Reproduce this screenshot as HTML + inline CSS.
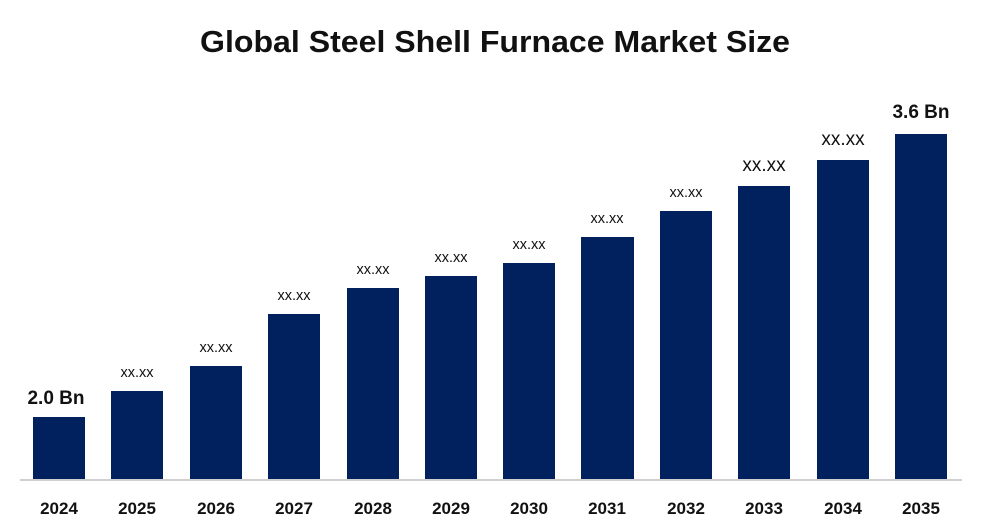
<!DOCTYPE html>
<html><head><meta charset="utf-8"><style>
body{margin:0;background:#fff;width:989px;height:525px;overflow:hidden;font-family:"Liberation Sans",sans-serif}
</style></head><body>
<svg width="989" height="525" xmlns="http://www.w3.org/2000/svg" font-family="Liberation Sans, sans-serif">
<text x="200" y="52" textLength="590" lengthAdjust="spacingAndGlyphs" font-size="31" font-weight="bold" fill="#111">Global Steel Shell Furnace Market Size</text>
<line x1="20" y1="480" x2="962" y2="480" stroke="#d0d0d0" stroke-width="2"/>
<g fill="#00205e">
<rect x="33" y="417" width="52" height="62"/>
<rect x="111" y="391" width="52" height="88"/>
<rect x="190" y="366" width="52" height="113"/>
<rect x="268" y="314" width="52" height="165"/>
<rect x="347" y="288" width="52" height="191"/>
<rect x="425" y="276" width="52" height="203"/>
<rect x="503" y="263" width="52" height="216"/>
<rect x="581" y="237" width="53" height="242"/>
<rect x="660" y="211" width="52" height="268"/>
<rect x="738" y="186" width="52" height="293"/>
<rect x="817" y="160" width="52" height="319"/>
<rect x="895" y="134" width="52" height="345"/>
</g>
<g font-size="14.5" fill="#111" text-anchor="middle">
<text x="137" y="377">xx.xx</text>
<text x="216" y="352">xx.xx</text>
<text x="294" y="300">xx.xx</text>
<text x="373" y="274">xx.xx</text>
<text x="451" y="262">xx.xx</text>
<text x="529" y="249">xx.xx</text>
<text x="607" y="223">xx.xx</text>
<text x="686" y="197">xx.xx</text>
<text x="764" y="171" font-size="19">xx.xx</text>
<text x="843" y="145" font-size="19">xx.xx</text>
</g>
<g font-size="19" font-weight="bold" fill="#111" text-anchor="middle">
<text x="56" y="404">2.0 Bn</text>
<text x="921" y="118">3.6 Bn</text>
</g>
<g font-size="17" font-weight="bold" fill="#111" text-anchor="middle">
<text x="59" y="514">2024</text><text x="137" y="514">2025</text><text x="216" y="514">2026</text>
<text x="294" y="514">2027</text><text x="373" y="514">2028</text><text x="451" y="514">2029</text>
<text x="529" y="514">2030</text><text x="607" y="514">2031</text><text x="686" y="514">2032</text>
<text x="764" y="514">2033</text><text x="843" y="514">2034</text><text x="921" y="514">2035</text>
</g>
</svg>
</body></html>
